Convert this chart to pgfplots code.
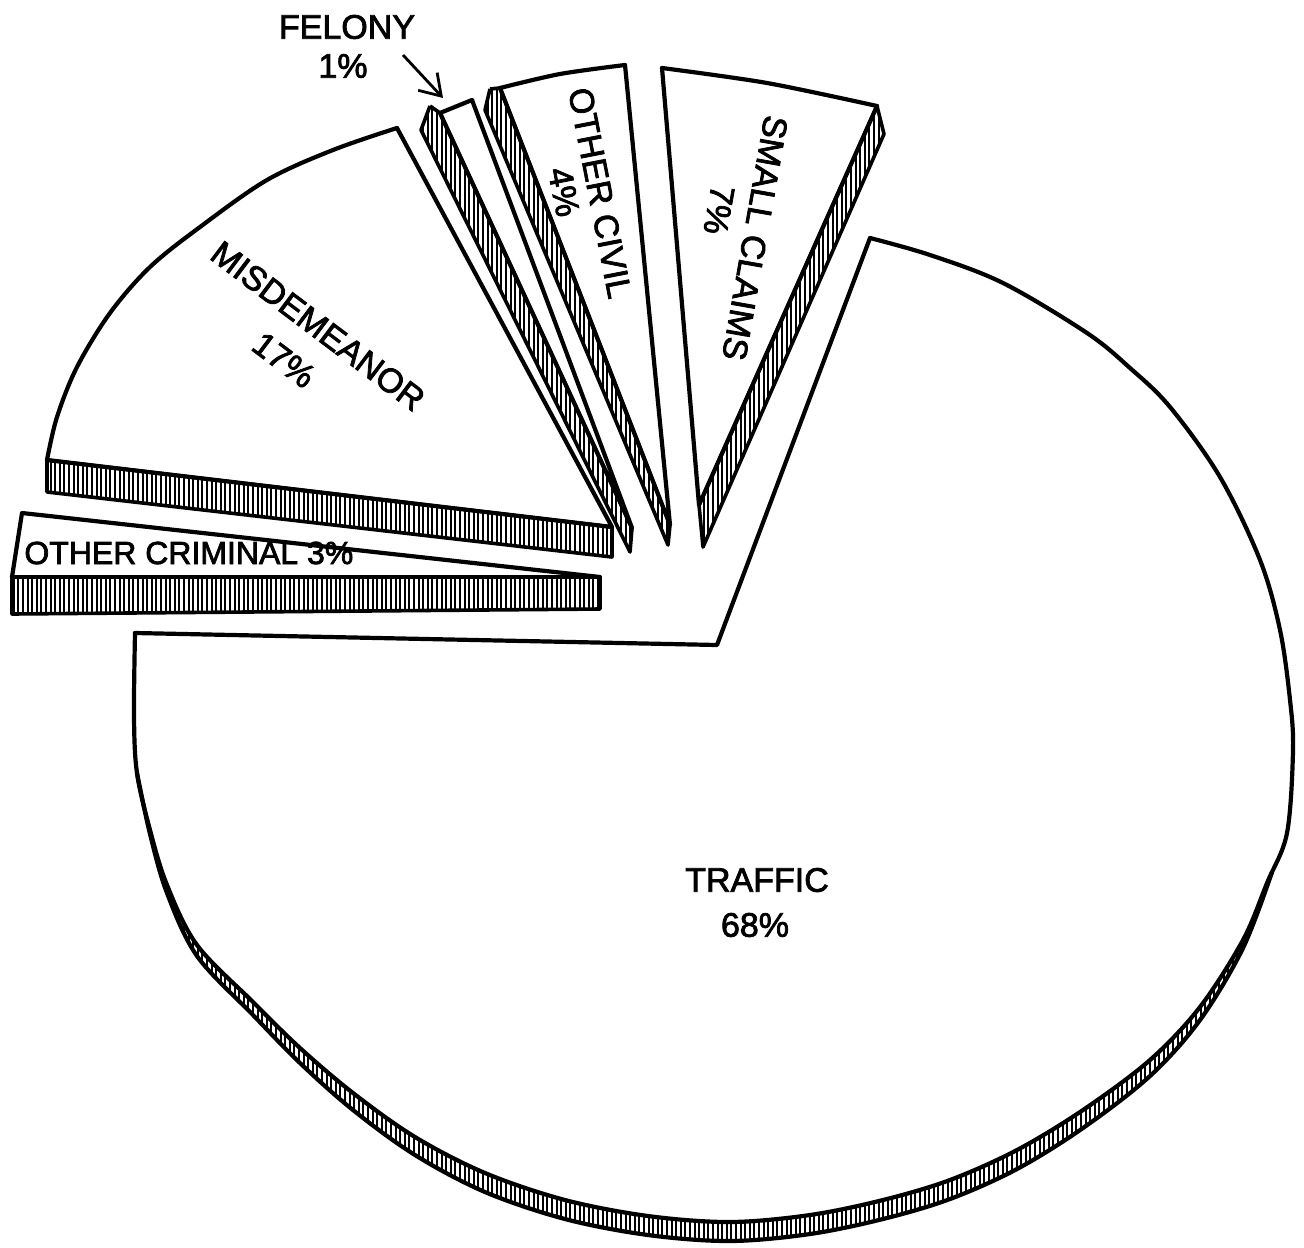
\documentclass[border=0pt]{standalone}
\usepackage{fontspec}
\setmainfont{Liberation Sans}
\newfontfamily\labfont{Liberation Sans}[FakeBold=2.2]
\usepackage{pgfplots}
\pgfplotsset{compat=1.18}
\usetikzlibrary{patterns.meta,arrows.meta}
\tikzset{lab/.style={font=\labfont\fontsize{17}{20}\selectfont,align=center,inner sep=0pt}}
\begin{document}
\begin{tikzpicture}
\begin{axis}[x=0.5pt,y=0.5pt,y dir=reverse,xmin=0,xmax=1304,ymin=0,ymax=1247,
  hide axis,clip=false,
  ol/.style={draw=black,line width=2.1pt,line join=round,line cap=round,no marks},
  face/.style={fill=white,draw=none,no marks},
  hatchf/.style={pattern={Lines[angle=90,distance=2.3pt,line width=1.05pt]},draw=none,no marks},
  hatch/.style={pattern={Lines[angle=90,distance=2.3pt,line width=1.05pt]},draw=black,line width=1.8pt,line join=round,no marks}]
\path (axis cs:0,0) rectangle (axis cs:1304,1247);
% ---------- TRAFFIC 68% ----------
\addplot[face] coordinates {(135,633) (717,645) (870,238) (930,255) (1003,283) (1087,333) (1170,407) (1220,477) (1260,560) (1290,700) (1287,833) (1243,940) (1150,1060) (1017,1150) (883,1200) (730,1222) (570,1205) (420,1140) (300,1050) (200,950) (150,830) (134,717) (135,633)};
\addplot[hatchf,smooth,tension=0.55] coordinates {(1272,872) (1243,940) (1200,1007) (1150,1060) (1083,1110) (1017,1150) (950,1180) (883,1200) (810,1215) (730,1222) (648,1216) (565,1200) (485,1173) (415,1137) (353,1093) (300,1048) (253,1002) (197,945) (167,885) (150,830) (137,773)
 (150,834) (167,893) (197,956) (253,1015) (300,1063) (353,1110) (415,1155) (485,1192) (565,1219) (648,1235) (730,1241) (810,1234) (883,1219) (950,1199) (1017,1169) (1083,1128) (1150,1076) (1200,1020) (1243,948) (1272,872)};
\addplot[ol,smooth,tension=0.55] coordinates {(137,773) (150,834) (167,893) (197,956) (253,1015) (300,1063) (353,1110) (415,1155) (485,1192) (565,1219) (648,1235) (730,1241) (810,1234) (883,1219) (950,1199) (1017,1169) (1083,1128) (1150,1076) (1200,1020) (1243,948) (1272,872)};
\addplot[ol] coordinates {(135,633) (717,645) (870,238)};
\addplot[ol,smooth,tension=0.55] coordinates {(870,238) (930,255) (1003,283) (1087,333) (1130,368) (1170,407) (1220,477) (1260,560) (1280,630) (1290,700) (1293,750) (1287,833) (1267,883) (1243,940) (1200,1007) (1150,1060) (1083,1110) (1017,1150) (950,1180) (883,1200) (810,1215) (730,1222) (648,1216) (565,1200) (485,1173) (415,1137) (353,1093) (300,1048) (253,1002) (197,945) (167,885) (150,830) (137,773) (134,717) (135,633)};
% ---------- OTHER CRIMINAL 3% ----------
\addplot[face] coordinates {(22,513) (600,577) (12,577) (22,513)};
\addplot[hatch] coordinates {(12,577) (600,577) (600,609) (12,614) (12,577)};
\addplot[ol] coordinates {(12,577) (22,513) (600,577)};
% ---------- MISDEMEANOR 17% ----------
\addplot[face] coordinates {(397,128) (333,150) (267,180) (200,227) (150,267) (110,313) (77,367) (57,417) (47,460) (612,527) (397,128)};
\addplot[hatch] coordinates {(47,460) (612,527) (612,557) (47,492) (47,460)};
\addplot[ol,smooth,tension=0.55] coordinates {(397,128) (333,150) (267,180) (200,227) (150,267) (110,313) (77,367) (57,417) (47,460)};
\addplot[ol] coordinates {(47,460) (612,527) (397,128)};
% ---------- FELONY 1% ----------
\addplot[face] coordinates {(440,113) (472,100) (632,528) (440,113)};
\addplot[hatch] coordinates {(430,106) (440,113) (632,528) (630,552) (421,130) (430,106)};
\addplot[ol] coordinates {(440,113) (472,100) (632,528) (440,113)};
% ---------- OTHER CIVIL 4% ----------
\addplot[face] coordinates {(500,88) (560,74) (625,65) (670,525) (500,88)};
\addplot[hatch] coordinates {(490,89) (500,88) (670,525) (668,545) (485,110) (490,89)};
\addplot[ol,smooth,tension=0.5] coordinates {(500,88) (560,74) (625,65)};
\addplot[ol] coordinates {(625,65) (670,525) (500,88)};
% ---------- SMALL CLAIMS 7% ----------
\addplot[face] coordinates {(662,68) (767,83) (877,106) (699,505) (662,68)};
\addplot[hatch] coordinates {(877,106) (884,134) (703,547) (699,505) (877,106)};
\addplot[ol,smooth,tension=0.5] coordinates {(662,68) (767,83) (877,106)};
\addplot[ol] coordinates {(877,106) (699,505) (662,68)};
% ---------- arrow ----------
\addplot[no marks,line width=1.4pt,-{Straight Barb[length=10pt,width=13pt,line width=1.4pt]}] coordinates {(403,55) (443,98)};
% ---------- labels ----------
\node[lab] at (axis cs:347,27) {FELONY};
\node[lab] at (axis cs:343,66) {1\%};
\node[lab,rotate=-37] at (axis cs:318,326) {MISDEMEANOR};
\node[lab,rotate=-37] at (axis cs:284,360) {17\%};
\node[lab,rotate=-79] at (axis cs:600,193) {OTHER CIVIL};
\node[lab,rotate=-79] at (axis cs:564,192) {4\%};
\node[lab,rotate=-100] at (axis cs:755,238) {SMALL CLAIMS};
\node[lab,rotate=-100] at (axis cs:719,210) {7\%};
\node[lab,anchor=west,font=\labfont\fontsize{16}{18}\selectfont] at (axis cs:24,553) {OTHER CRIMINAL 3\%};
\node[lab] at (axis cs:757,880) {TRAFFIC};
\node[lab] at (axis cs:755,925) {68\%};
\end{axis}
\end{tikzpicture}
\end{document}
